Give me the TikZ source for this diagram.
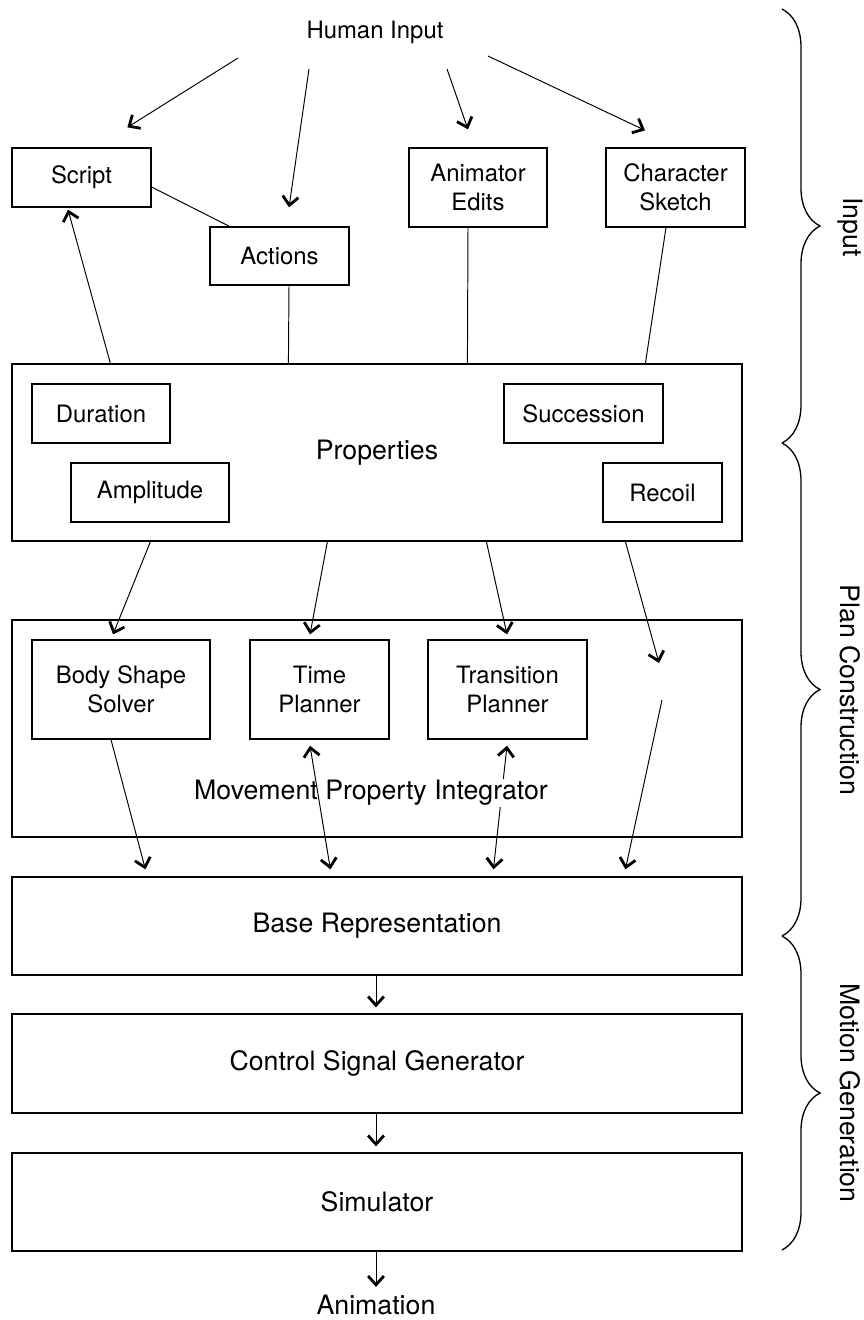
\documentclass[tikz,border=0pt]{standalone}
\usepackage{fontspec}
\setmainfont{TeX Gyre Heros}
\usetikzlibrary{arrows.meta,calc,decorations.pathreplacing}

\tikzset{
    box/.style={draw, line width=0.75pt, align=center, inner sep=0pt},
    bigtext/.style={font=\fontsize{15.2}{18}\selectfont},
    link/.style={line width=0.55pt},
    arr/.style={link, -{Straight Barb[length=5pt,width=9pt,line width=1.6pt]}},
    twoway/.style={link, {Straight Barb[length=5pt,width=9pt,line width=1.6pt]}-{Straight Barb[length=5pt,width=9pt,line width=1.6pt]}},
    stage/.style={line width=0.75pt, decorate, decoration={brace, amplitude=0.76cm}},
    stagename/.style={bigtext, rotate=-90, inner sep=0pt}
}

\begin{document}
\begin{tikzpicture}[x=0.02cm, y=-0.02cm, font=\fontsize{13.6}{16.3}\selectfont]
    \useasboundingbox (0,0) rectangle (864,1320);

    % inputs
    \node (human) at (375,32) {Human Input};
    \node[box, minimum width=2.78cm, minimum height=1.18cm] (script) at (81.5,177.5) {Script};
    \node[box, minimum width=2.78cm, minimum height=1.16cm] (actions) at (279.5,256) {Actions};
    \node[box, minimum width=2.76cm, minimum height=1.58cm] (animator) at (478,187.5) {Animator\\Edits};
    \node[box, minimum width=2.78cm, minimum height=1.58cm] (sketch) at (675.5,187.5) {Character\\Sketch};

    % properties
    \node[box, bigtext, minimum width=14.6cm, minimum height=3.54cm] (props) at (377,452.5) {Properties};
    \node[box, minimum width=2.76cm, minimum height=1.18cm] (duration) at (101,413.5) {Duration};
    \node[box, minimum width=3.18cm, minimum height=1.18cm] (succession) at (583.5,413.5) {Succession};
    \node[box, minimum width=3.16cm, minimum height=1.18cm] (amplitude) at (150,492.5) {Amplitude};
    \node[box, minimum width=2.38cm, minimum height=1.18cm] (recoil) at (662.5,492.5) {Recoil};

    % integrator
    \node[box, minimum width=14.6cm, minimum height=4.34cm] (mpi) at (377,728.5) {};
    \node[box, minimum width=3.56cm, minimum height=1.98cm] (body) at (121,689.5) {Body Shape\\Solver};
    \node[box, minimum width=2.78cm, minimum height=1.98cm] (time) at (319.5,689.5) {Time\\Planner};
    \node[box, minimum width=3.18cm, minimum height=1.98cm] (transition) at (507.5,689.5) {Transition\\Planner};

    % motion
    \node[box, bigtext, minimum width=14.6cm, minimum height=1.96cm] (base) at (377,926) {Base Representation};
    \node[box, bigtext, minimum width=14.6cm, minimum height=1.98cm] (control) at (377,1063.5) {Control Signal Generator};
    \node[box, bigtext, minimum width=14.6cm, minimum height=1.96cm] (sim) at (377,1202) {Simulator};
    \node[bigtext] (anim) at (376,1305) {Animation};

    \coordinate (gapin) at (659,663);
    \coordinate (gapout) at (662,700);

    % human input
    \draw[arr] ($(human)+(-137,26)$) -- ($(script.north west)+(116,-20)$);
    \draw[arr] ($(human)+(-66,37)$) -- ($(actions.north)+(9.5,-19)$);
    \draw[arr] ($(human)+(72,37)$) -- ($(animator.north)+(-10,-18)$);
    \draw[arr] ($(human)+(113,24)$) -- ($(sketch.north)+(-30.5,-17)$);
    \draw[link] ($(script.east)+(0,9.5)$) -- ($(actions.north west)+(20,0)$);

    % into properties
    \draw[arr] ($(props.north west)+(99,0)$) -- ($(script.south)+(-13.5,2)$);
    \draw[link] ($(actions.south)+(9.5,0)$) -- ($(props.north west)+(277,0)$);
    \draw[link] ($(animator.south)+(-10,0)$) -- ($(props.north west)+(456,0)$);
    \draw[link] ($(sketch.south)+(-9.5,0)$) -- ($(props.north west)+(634,0)$);

    % properties to planners
    \draw[arr] ($(props.south west)+(139,0)$) -- ($(body.north)+(-8,-5)$);
    \draw[arr] ($(props.south west)+(316,0)$) -- ($(time.north)+(-9.5,-5)$);
    \draw[arr] ($(props.south west)+(475,0)$) -- ($(transition.north)+(-0.5,-5)$);
    \draw[arr] ($(props.south west)+(614,0)$) -- (gapin);

    % planners to base
    \draw[arr] ($(body.south)+(-10,0)$) -- ($(base.north west)+(134,-7)$);
    \draw[twoway] ($(transition.south)+(-0.5,6)$) -- ($(base.north west)+(482,-7)$);
    \node[bigtext, fill=white, inner sep=1pt] (mpilabel) at (371,793) {Movement Property Integrator};
    \draw[twoway] ($(time.south)+(-9.5,6)$) -- ($(base.north west)+(319,-7)$);
    \draw[arr] (gapout) -- ($(base.north west)+(614,-7)$);

    % down the chain
    \draw[arr] ($(base.south)+(-1,0)$) -- ($(control.north)+(-1,-6)$);
    \draw[arr] ($(control.south)+(-1,0)$) -- ($(sim.north)+(-1,-6)$);
    \draw[arr] ($(sim.south)+(-1,0)$) -- ($(anim.north)+(0,-2)$);

    % stages
    \draw[stage] (782,9) -- (782,443);
    \draw[stage] (782,443) -- (782,936);
    \draw[stage] (782,936) -- (782,1250);
    \node[stagename] (input) at (850,227) {Input};
    \node[stagename] (plan) at (850,690) {Plan Construction};
    \node[stagename] (motion) at (850,1093) {Motion Generation};
\end{tikzpicture}
\end{document}
